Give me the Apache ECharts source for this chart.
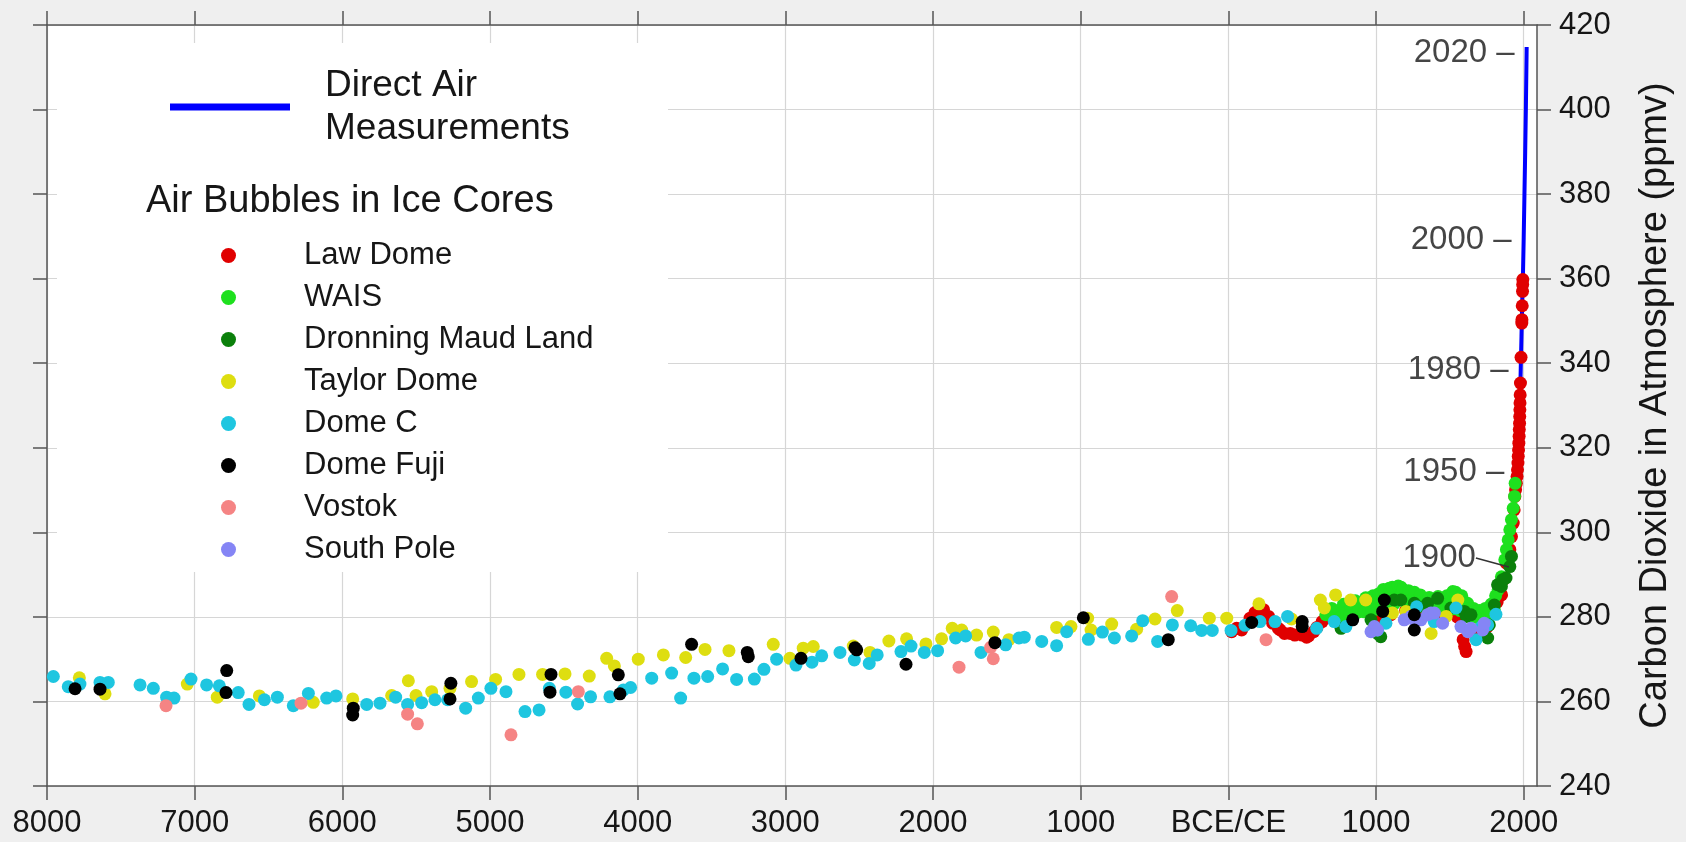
<!DOCTYPE html>
<html>
<head>
<meta charset="utf-8">
<script src="https://cdn.jsdelivr.net/npm/echarts@6/dist/echarts.min.js"></script>
<style>
html,body{margin:0;padding:0;background:#efefef;}
#chart{width:1686px;height:842px;}
</style>
</head>
<body>
<div id="chart"></div>
<script>
// ---------- data (year: negative = BCE, positive = CE; ppm) ----------
const xTicks = [-8000,-7000,-6000,-5000,-4000,-3000,-2000,-1000,0,1000,2000];
const yTicks = [240,260,280,300,320,340,360,380,400,420];

const directAir = [[1958,315.3],[1960,316.9],[1965,320.0],[1970,325.7],[1975,331.1],[1980,338.8],[1985,346.4],[1990,354.4],[1995,360.9],[2000,369.7],[2005,379.8],[2010,389.9],[2015,401.0],[2020,414.8]];

const lawDome = [[22,276.5],[56,277.3],[90,276.9],[147,279.7],[180,281.0],[203,281.7],[238,281.7],[272,280.1],[300,278.5],[338,277.3],[351,276.9],[380,276.1],[419,276.1],[450,275.7],[499,275.7],[530,275.2],[544,275.5],[578,276.5],[600,277.5],[635,278.9],[669,280.1],[700,279.7],
[1010,279.5],[1100,280.5],[1200,281.5],[1300,281.0],[1400,280.5],[1500,281.5],[1550,280.0],[1590,274.6],[1600,273.0],[1610,271.8],[1650,276.5],[1700,277.0],[1750,277.5],
[1780,282.0],[1820,283.5],[1850,285.2],[1861,288.8],[1883,292.7],[1906,295.9],[1917,299.0],[1929,302.2],[1935,305.3],[1940,308.5],[1945,310.1],[1950,311.6],[1955,313.2],[1958,314.8],[1961,316.4],[1963,318.0],[1965,319.5],[1967,321.1],[1969,322.7],[1970,324.3],[1972,325.8],[1973,327.4],[1974,329.0],[1975,330.6],[1976,332.5],[1978,335.3],[1982,341.4],[1987,349.5],[1988,350.3],[1990,353.6],[1992,357.0],[1993,358.6],[1994,359.8]];

const wais = [[660,280.5],[680,281.0],[700,282.0],[710,279.8],[720,280.5],[750,281.5],[760,280.0],[780,283.0],[800,281.0],[820,280.5],[830,282.5],[860,283.8],[870,281.0],[880,281.5],[900,283.0],[920,281.2],[930,284.5],[950,282.0],[970,281.5],[980,285.0],[1000,283.0],[1010,281.8],[1020,285.5],[1040,282.5],[1050,286.5],[1060,286.0],[1080,284.0],[1090,286.8],[1100,286.5],[1110,287.0],[1120,283.0],[1130,284.8],[1140,286.8],[1150,287.3],[1160,284.5],[1170,287.0],[1180,286.5],[1190,284.0],[1200,283.5],[1220,286.2],[1230,282.8],[1240,284.0],[1260,285.8],[1270,283.8],[1280,283.0],[1300,285.2],[1310,282.6],[1330,283.5],[1345,281.8],[1360,284.6],[1375,283.0],[1390,282.5],[1405,281.6],[1420,284.8],[1435,282.2],[1450,283.0],[1465,281.8],[1480,285.0],[1495,282.5],[1510,283.5],[1520,286.0],[1525,281.9],[1540,285.8],[1550,284.0],[1560,283.0],[1570,281.5],[1580,285.0],[1590,283.8],[1600,282.5],[1610,280.8],[1620,283.2],[1630,282.0],[1640,281.0],[1650,280.0],[1660,282.0],[1670,281.2],[1680,280.5],[1690,279.8],[1700,281.5],[1710,280.3],[1720,279.5],[1730,278.8],[1740,282.0],[1750,279.5],[1760,280.5],[1770,281.5],[1780,283.0],[1792,283.2],[1800,281.8],[1810,285.0],[1827,286.4],[1849,289.5],[1872,293.5],[1883,295.9],[1895,298.2],[1906,300.6],[1917,303.0],[1929,305.7],[1938,308.5],[1942,311.6]];

const dronningMaud = [[763,277.3],[966,279.3],[1009,276.1],[1032,275.3],[1123,284.0],[1168,284.0],[1214,281.3],[1259,283.2],[1282,282.4],[1349,283.2],[1417,284.4],[1507,282.1],[1598,281.3],[1611,280.1],[1643,280.5],[1756,275.0],[1767,278.1],[1801,282.8],[1823,287.6],[1849,287.2],[1857,288.8],[1880,289.2],[1906,291.9],[1917,294.3]];

const taylorDome = [[-7781,265.6],[-7607,261.8],[-7050,264.1],[-6847,261.0],[-6562,261.3],[-6197,259.8],[-5930,260.6],[-5666,261.4],[-5553,264.9],[-5501,261.4],[-5395,262.3],[-5271,263.1],[-5125,264.7],[-4962,265.2],[-4804,266.4],[-4644,266.4],[-4492,266.5],[-4328,266.0],[-4210,270.2],[-4158,268.4],[-3996,270.0],[-3826,271.0],[-3675,270.4],[-3544,272.3],[-3382,272.0],[-3082,273.5],[-2969,270.2],[-2879,272.6],[-2811,273.0],[-2540,273.1],[-2427,271.6],[-2299,274.3],[-2179,274.8],[-2048,273.6],[-1942,274.8],[-1870,277.3],[-1806,276.9],[-1705,275.7],[-1592,276.4],[-1486,274.6],[-1163,277.5],[-1066,277.7],[-953,279.7],[-930,276.9],[-790,278.3],[-621,277.1],[-497,279.5],[-346,281.5],[-129,279.7],[-11,279.7],[207,283.1],[428,279.5],[623,284.0],[650,282.1],[726,285.2],[828,284.0],[930,284.0],[1111,280.9],[1203,281.3],[1373,276.1],[1475,280.1],[1554,284.0]];

const domeC = [[-7957,265.9],[-7856,263.5],[-7777,264.1],[-7641,264.5],[-7585,264.5],[-7370,263.9],[-7280,263.1],[-7190,261.0],[-7140,260.8],[-7025,265.3],[-6919,263.9],[-6833,263.7],[-6705,262.1],[-6632,259.3],[-6528,260.4],[-6440,261.0],[-6332,259.0],[-6230,261.9],[-6106,260.8],[-6043,261.3],[-5835,259.3],[-5745,259.6],[-5639,261.0],[-5558,259.3],[-5463,259.7],[-5373,260.4],[-5287,260.4],[-5165,258.4],[-5079,260.8],[-4994,263.1],[-4892,262.3],[-4763,257.6],[-4668,258.0],[-4598,263.1],[-4486,262.2],[-4407,259.4],[-4319,261.1],[-4188,261.1],[-4097,262.7],[-4048,263.3],[-3905,265.5],[-3770,266.7],[-3709,260.8],[-3619,265.5],[-3526,265.9],[-3425,267.7],[-3330,265.2],[-3210,265.3],[-3145,267.6],[-3059,270.0],[-2928,268.6],[-2820,269.3],[-2754,270.8],[-2630,271.6],[-2533,269.8],[-2432,269.0],[-2378,271.0],[-2217,271.8],[-2149,273.1],[-2059,271.6],[-1969,272.0],[-1847,275.0],[-1779,275.5],[-1675,271.6],[-1508,273.4],[-1418,275.0],[-1382,275.2],[-1264,274.2],[-1163,273.2],[-1095,276.5],[-948,274.7],[-853,276.4],[-772,275.0],[-655,275.5],[-580,279.1],[-479,274.2],[-379,278.1],[-255,277.9],[-181,276.8],[-109,276.8],[18,276.8],[113,278.0],[214,278.9],[316,278.9],[401,280.1],[598,277.3],[717,278.9],[796,277.7],[1011,276.9],[1067,278.5],[1275,282.4],[1394,278.9],[1541,282.1],[1677,274.6],[1715,277.7],[1756,278.1],[1812,280.6]];

const domeFuji = [[-7810,263.0],[-7641,262.9],[-6788,262.1],[-6783,267.3],[-5930,256.8],[-5926,258.4],[-5271,260.6],[-5265,264.3],[-4594,262.2],[-4587,266.4],[-4131,266.3],[-4120,261.8],[-3635,273.5],[-3258,271.6],[-3251,270.6],[-2894,270.2],[-2529,272.7],[-2517,272.2],[-2183,268.8],[-1581,273.9],[-982,279.8],[-407,274.6],[158,278.7],[500,278.9],[500,277.7],[842,279.3],[1045,281.3],[1056,284.0],[1259,280.5],[1259,276.9]];

const vostok = [[-7194,259.0],[-6280,259.6],[-5558,257.0],[-5492,254.7],[-4858,252.1],[-4402,262.3],[-1824,268.1],[-1610,272.8],[-1592,270.1],[-384,284.8],[255,274.6]];

const southPole = [[966,276.5],[989,277.7],[1009,276.9],[1191,279.3],[1237,280.1],[1259,279.3],[1304,279.3],[1349,280.5],[1372,280.9],[1395,280.9],[1451,278.5],[1575,277.7],[1622,276.5],[1643,277.3],[1722,276.9],[1733,278.5]];

const yearMarks = [[2020,413.5],[2000,369.2],[1980,338.5],[1950,314.3]];
const yearMark1900 = [[1900,291.8]];

const iceCoreNames = ['Law Dome','WAIS','Dronning Maud Land','Taylor Dome','Dome C','Dome Fuji','Vostok','South Pole'];
const iceCoreColors = ['#e00000','#1ee01e','#0b800b','#dede10','#1ec6e0','#000000','#f58484','#8585f5'];
const iceCoreData = [lawDome, wais, dronningMaud, taylorDome, domeC, domeFuji, vostok, southPole];
const lineName = 'Direct Air\nMeasurements';

// ---------- chart ----------
const FONT = '"Liberation Sans", Arial, Helvetica, sans-serif';
const AX = '#555';
const TXT = '#161616';

function xLabel(v){
  if (v === 0) return 'BCE/CE';
  return String(Math.abs(v));
}

const scatterSeries = iceCoreNames.map((n,i)=>({
  type:'scatter', name:n, data:iceCoreData[i], symbol:'circle', symbolSize:13,
  itemStyle:{color:iceCoreColors[i], opacity:1},
  z: n === 'Dome Fuji' ? 4 : 3, silent:true
}));

const option = {
  backgroundColor:'#efefef',
  animation:false,
  textStyle:{fontFamily:FONT},
  grid:{left:47,right:149,top:25,bottom:56,show:true,backgroundColor:'#ffffff',borderWidth:0},
  title:{text:'Air Bubbles in Ice Cores',left:146,top:180,padding:0,
    textStyle:{fontFamily:FONT,fontSize:38,fontWeight:'normal',color:TXT,lineHeight:44}},
  graphic:[{type:'rect',left:57,top:43,z:1,silent:true,shape:{width:611,height:529},style:{fill:'#ffffff'}}],
  legend:[
    {data:[{name:lineName,icon:'rect'}],left:170,top:64,padding:0,itemWidth:120,itemHeight:7,selectedMode:false,
     textStyle:{fontFamily:FONT,fontSize:37,color:TXT,lineHeight:43,padding:[0,0,0,30]}},
    {data:iceCoreNames.map(n=>({name:n,icon:'circle'})),orient:'vertical',left:221,top:240,padding:0,
     itemWidth:15,itemHeight:15,itemGap:11,selectedMode:false,
     textStyle:{fontFamily:FONT,fontSize:31,color:TXT,lineHeight:30,padding:[0,0,0,63]}}
  ],
  xAxis:[
    {type:'value',position:'bottom',min:-8000,max:2090,
     axisLine:{show:true,onZero:false,lineStyle:{color:AX,width:1.5}},
     axisTick:{show:true,length:14,customValues:xTicks,lineStyle:{color:AX,width:1.5}},
     axisLabel:{customValues:xTicks,formatter:xLabel,fontSize:31,color:TXT,margin:22,fontFamily:FONT},
     splitLine:{show:true,lineStyle:{color:'#d6d6d6',width:1.2}}},
    {type:'value',position:'top',min:-8000,max:2090,
     axisLine:{show:true,onZero:false,lineStyle:{color:AX,width:1.5}},
     axisTick:{show:true,length:14,customValues:xTicks,lineStyle:{color:AX,width:1.5}},
     axisLabel:{show:false},
     splitLine:{show:false}}
  ],
  yAxis:[
    {type:'value',position:'right',min:240,max:420,interval:20,
     name:'Carbon Dioxide in Atmosphere (ppmv)',nameLocation:'middle',nameRotate:90,nameGap:100,
     nameTextStyle:{fontSize:38,color:TXT,fontFamily:FONT},
     axisLine:{show:true,onZero:false,lineStyle:{color:AX,width:1.5}},
     axisTick:{show:true,length:14,lineStyle:{color:AX,width:1.5}},
     axisLabel:{fontSize:31,color:TXT,margin:22,fontFamily:FONT},
     splitLine:{show:true,lineStyle:{color:'#d6d6d6',width:1.2}}},
    {type:'value',position:'left',min:240,max:420,interval:20,
     axisLine:{show:true,onZero:false,lineStyle:{color:AX,width:1.5}},
     axisTick:{show:true,length:14,lineStyle:{color:AX,width:1.5}},
     axisLabel:{show:false},
     splitLine:{show:false}}
  ],
  series:[
    {type:'line',name:lineName,data:directAir,showSymbol:false,symbol:'none',
     lineStyle:{color:'#0000ff',width:4},itemStyle:{color:'#0000ff'},z:2,silent:true},
    ...scatterSeries,
    {type:'scatter',name:'yearMarks',data:yearMarks,symbolSize:0.1,itemStyle:{color:'transparent'},silent:true,z:5,
     label:{show:true,position:'left',distance:12,fontSize:33,color:TXT,fontFamily:FONT,
       formatter:p=>p.value[0]+' \u2013'}},
    {type:'scatter',name:'yearMark1900',data:yearMark1900,symbolSize:0.1,itemStyle:{color:'transparent'},silent:true,z:5,
     label:{show:true,position:'left',distance:33,fontSize:33,color:TXT,fontFamily:FONT,formatter:p=>String(p.value[0])},
     labelLayout:{dy:-9},
     labelLine:{show:true,lineStyle:{color:'#333',width:1.5}}}
  ]
};

const chart = echarts.init(document.getElementById('chart'),null,{renderer:'canvas'});
chart.setOption(option);
</script>
</body>
</html>
